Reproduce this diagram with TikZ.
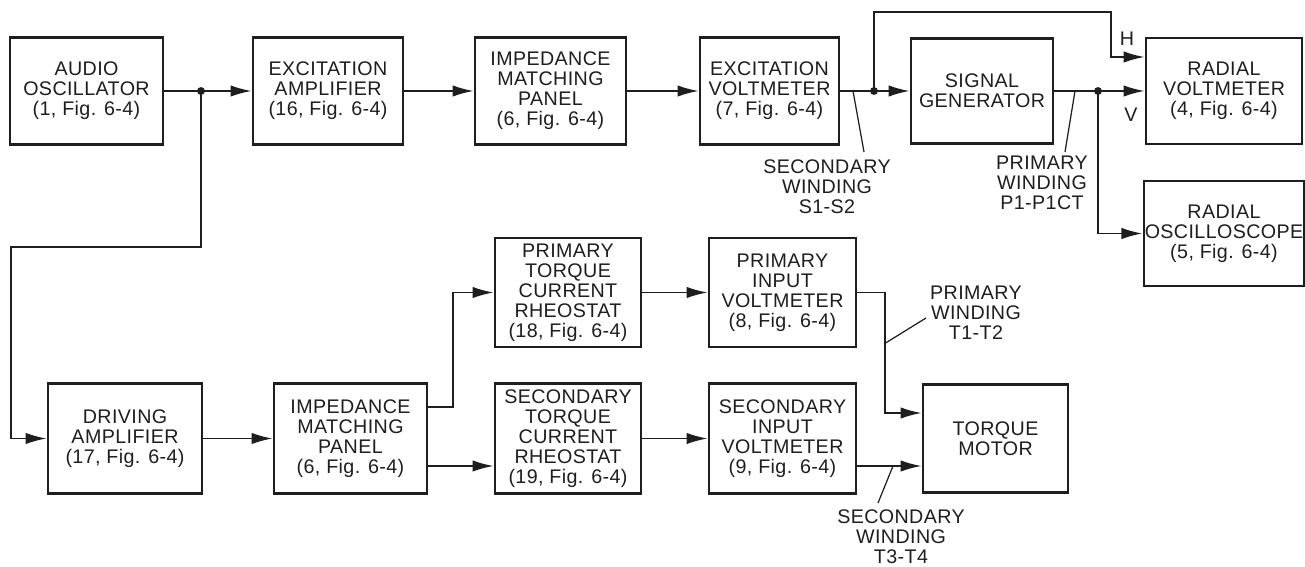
\documentclass[tikz,border=0pt]{standalone}
\usepackage{fontspec}
\setmainfont{Liberation Sans}[LetterSpace=2]
\usetikzlibrary{arrows.meta,positioning,calc}
\definecolor{inkgray}{RGB}{30,30,30}
\tikzset{
  block/.style={draw=inkgray,line width=1.5pt,align=center,inner sep=0.5pt,
    font=\fontsize{11.2}{11.4}\selectfont,text=inkgray},
  wire/.style={draw=inkgray,line width=1.1pt},
  feed/.style={wire,-{Latex[length=12pt,width=6.5pt]}},
  leader/.style={draw=inkgray,line width=0.7pt},
  tag/.style={align=center,inner sep=0pt,
    font=\fontsize{11.2}{11.4}\selectfont,text=inkgray},
  dot/.style={circle,fill=inkgray,inner sep=0pt,minimum size=4.5pt},
}

\begin{document}
\begin{tikzpicture}[x=0.02cm,y=-0.02cm]
\useasboundingbox (0,0) rectangle (1305,567);
% top row
\node[block,minimum width=3.06cm,minimum height=2.14cm] (aosc) at (86.5,91)
  {AUDIO\\OSCILLATOR\\(1, Fig. 6-4)};
\node[block,minimum width=3.0cm,minimum height=2.14cm] (examp) at (328,91)
  {EXCITATION\\AMPLIFIER\\(16, Fig. 6-4)};
\node[block,minimum width=3.02cm,minimum height=2.14cm] (imp1) at (550.5,91)
  {IMPEDANCE\\MATCHING\\PANEL\\(6, Fig. 6-4)};
\node[block,minimum width=2.78cm,minimum height=2.14cm] (exvm) at (769.5,91)
  {EXCITATION\\VOLTMETER\\(7, Fig. 6-4)};
\node[block,minimum width=2.84cm,minimum height=2.10cm] (siggen) at (982,91)
  {SIGNAL\\GENERATOR};
\node[block,minimum width=3.12cm,minimum height=2.12cm] (radvm) at (1224,91)
  {RADIAL\\VOLTMETER\\(4, Fig. 6-4)};
\node[block,minimum width=3.12cm,minimum height=2.10cm] (radosc) at (1224,233.5)
  {RADIAL\\OSCILLOSCOPE\\(5, Fig. 6-4)};
% middle and bottom rows
\node[block,minimum width=2.92cm,minimum height=2.18cm] (ptcr) at (568,292.5)
  {PRIMARY\\TORQUE\\CURRENT\\RHEOSTAT\\(18, Fig. 6-4)};
\node[block,minimum width=2.94cm,minimum height=2.18cm] (pivm) at (782.5,292.5)
  {PRIMARY\\INPUT\\VOLTMETER\\(8, Fig. 6-4)};
\node[block,minimum width=3.08cm,minimum height=2.2cm] (drvamp) at (125,438.5)
  {DRIVING\\AMPLIFIER\\(17, Fig. 6-4)};
\node[block,minimum width=3.06cm,minimum height=2.2cm] (imp2) at (350.5,438.5)
  {IMPEDANCE\\MATCHING\\PANEL\\(6, Fig. 6-4)};
\node[block,minimum width=2.92cm,minimum height=2.2cm] (stcr) at (568,438.5)
  {SECONDARY\\TORQUE\\CURRENT\\RHEOSTAT\\(19, Fig. 6-4)};
\node[block,minimum width=2.94cm,minimum height=2.2cm] (sivm) at (782.5,438.5)
  {SECONDARY\\INPUT\\VOLTMETER\\(9, Fig. 6-4)};
\node[block,minimum width=2.9cm,minimum height=2.16cm] (tmot) at (995.5,438.5)
  {TORQUE\\MOTOR};

% junctions
\node[dot] (jA) at (201,91) {};
\node[dot] (jH) at (874,91) {};
\node[dot] (jV) at (1098,91) {};

% signal flow
\draw[feed] (aosc) -- (examp);
\draw[feed] (examp) -- (imp1);
\draw[feed] (imp1) -- (exvm);
\draw[feed] (exvm) -- (siggen);
\draw[feed] (siggen) -- (radvm);
\draw[feed] (jV.center) |- (radosc.west);
\coordinate (hTop) at (1111,12);
\draw[feed] (jH.center) |- (hTop) |- ([yshift=0.68cm]radvm.west);
\coordinate (loopTurn) at (11,247);
\draw[feed] (jA.center) |- (loopTurn) |- (drvamp.west);
\draw[feed] (drvamp) -- (imp2);
\draw[feed] ([yshift=0.63cm]imp2.east) -- ++(0.5cm,0) |- (ptcr.west);
\coordinate (imp2lo) at ([yshift=-0.55cm]imp2.east);
\draw[feed] (imp2lo) -- (imp2lo -| stcr.west);
\draw[feed] (ptcr) -- (pivm);
\draw[feed] (stcr) -- (sivm);
\draw[feed] (pivm.east) -- ++(0.56cm,0) |- ([yshift=0.51cm]tmot.west);
\coordinate (sivmlo) at ([yshift=-0.55cm]sivm.east);
\draw[feed] (sivmlo) -- (sivmlo -| tmot.west);

% input letters
\node[tag] (hIn) at (1127,39) {H};
\node[tag] (vIn) at (1131,115) {V};

% winding callouts
\node[tag] (sWind) at (827,187) {SECONDARY\\WINDING\\S1-S2};
\coordinate (sTick) at (853,91);
\coordinate (sFoot) at (864,152);
\draw[leader] (sTick) -- (sFoot);
\node[tag] (pWind) at (1042,183) {PRIMARY\\WINDING\\P1-P1CT};
\coordinate (pTick) at (1075,91);
\coordinate (pFoot) at (1065,152);
\draw[leader] (pTick) -- (pFoot);
\node[tag] (tWind) at (976,313) {PRIMARY\\WINDING\\T1-T2};
\coordinate (tTick) at (884,344);
\coordinate (tFoot) at (926,318);
\draw[leader] (tTick) -- (tFoot);
\node[tag] (uWind) at (901,537) {SECONDARY\\WINDING\\T3-T4};
\coordinate (uTick) at (893,466);
\coordinate (uFoot) at (878,503);
\draw[leader] (uTick) -- (uFoot);
\end{tikzpicture}
\end{document}
